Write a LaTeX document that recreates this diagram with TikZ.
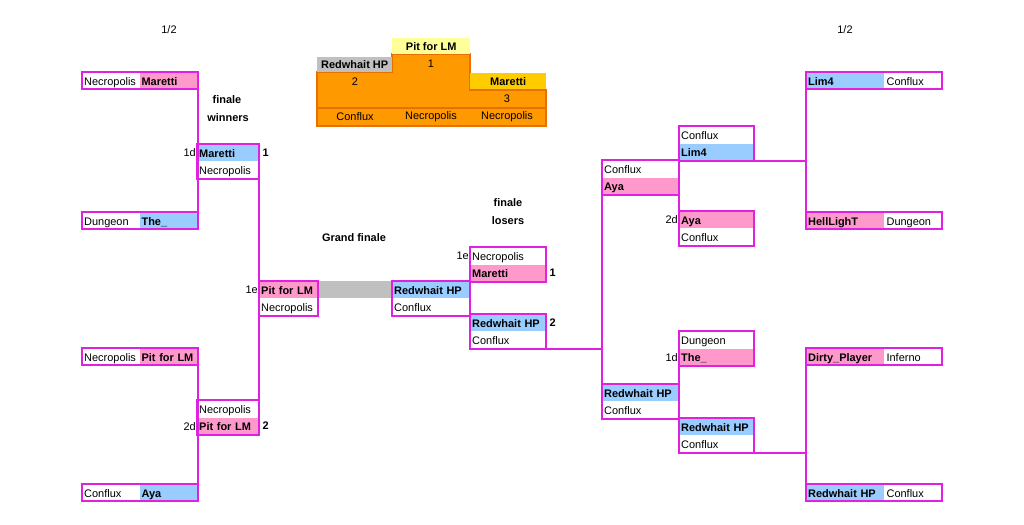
\documentclass[tikz,border=0pt]{standalone}
\usepackage{fontspec}
\setmainfont{Liberation Sans}
\usetikzlibrary{calc}

\definecolor{rimc}{RGB}{224,34,224}
\definecolor{pkc}{RGB}{255,153,204}
\definecolor{blc}{RGB}{153,204,255}
\definecolor{grc}{RGB}{192,192,192}
\definecolor{orc}{RGB}{255,153,0}
\definecolor{ordk}{RGB}{232,112,0}
\definecolor{ylc}{RGB}{255,255,153}
\definecolor{gdc}{RGB}{255,204,0}

\begin{document}
\begin{tikzpicture}
	[x=1bp,y=-1bp,
	cell/.style={anchor=north west,inner xsep=2bp,inner ysep=0pt,minimum height=17bp,text height=10.3pt,text depth=0.5pt,align=left,font=\fontsize{11}{13}\selectfont},
	wt/.style={},
	pk/.style={fill=pkc,font=\fontsize{11}{13}\selectfont\bfseries},
	bl/.style={fill=blc,font=\fontsize{11}{13}\selectfont\bfseries},
	rim/.style={draw=rimc,line width=2bp},
	ttl/.style={font=\fontsize{11}{13}\selectfont\bfseries,inner sep=1pt},
	plain/.style={font=\fontsize{11}{13}\selectfont,inner sep=1pt},
	seed/.style={plain,anchor=east},
	res/.style={ttl,anchor=west,xshift=2pt},
	pod/.style={anchor=north west,inner sep=0pt,font=\fontsize{11}{13}\selectfont\bfseries}]
	\useasboundingbox (0,0) rectangle (1024,525);
	%PODIUM
	\filldraw[fill=orc,draw=ordk,line width=1.5bp] (317,72) -- (392,72) -- (392,54) -- (470,54) -- (470,90) -- (546,90) -- (546,126) -- (317,126) -- cycle;
	\draw[draw=ordk,line width=1.5bp] (317,108) -- (546,108);
	\node[pod,fill=ylc,minimum width=78bp,minimum height=16bp] (p1) at (392,38) {Pit for LM};
	\node[pod,fill=grc,minimum width=75bp,minimum height=15bp] (p2) at (317,57) {Redwhait HP};
	\node[pod,fill=gdc,minimum width=76bp,minimum height=16bp] (p3) at (470,73) {Maretti};
	\node[plain] (n1) at (431,64) {1};
	\node[plain] (n2) at (355,82) {2};
	\node[plain] (n3) at (507,99) {3};
	\node[plain] (m2) at (355,117) {Conflux};
	\node[plain] (m1) at (431,117) {Necropolis};
	\node[plain] (m3) at (507,117) {Necropolis};
	%TITLES
	\node[plain] (half1) at (169,30) {1/2};
	\node[plain] (half2) at (845,30) {1/2};
	\node[ttl] (fw1) at (227,100) {finale};
	\node[ttl] (fw2) at (228,118) {winners};
	\node[ttl] (gf) at (354,238) {Grand finale};
	\node[ttl] (fl1) at (508,203) {finale};
	\node[ttl] (fl2) at (508,221) {losers};
	%FIRST ROUND LEFT
	\foreach \nm/\py/\mp/\pl/\st in {l1/72/Necropolis/Maretti/pk,l2/212/Dungeon/The\_/bl,l3/348/Necropolis/Pit for LM/pk,l4/484/Conflux/Aya/bl}
	{
		\node[cell,text width=53bp] (\nm a) at (82,\py) {\mp};
		\node[cell,\st,text width=54bp] (\nm b) at (\nm a.north east) {\pl};
		\draw[rim] (\nm a.north west) rectangle (\nm b.south east);
	};
	%FIRST ROUND RIGHT
	\foreach \nm/\py/\pl/\st/\mp in {r1/72/Lim4/bl/Conflux,r2/212/HellLighT/pk/Dungeon,r3/348/Dirty\_Player/pk/Inferno,r4/484/Redwhait HP/bl/Conflux}
	{
		\node[cell,\st,text width=74bp] (\nm a) at (806,\py) {\pl};
		\node[cell,text width=53bp] (\nm b) at (\nm a.north east) {\mp};
		\draw[rim] (\nm a.north west) rectangle (\nm b.south east);
	};
	%MATCHES
	\foreach \nm/\px/\py/\tw/\ta/\sa/\tb/\sb in {%
		w1/197/144/58/Maretti/bl/Necropolis/wt,%
		w2/197/400/58/Necropolis/wt/Pit for LM/pk,%
		g1/259/281/55/Pit for LM/pk/Necropolis/wt,%
		g2/392/281/74/Redwhait HP/bl/Conflux/wt,%
		f1/470/247/72/Necropolis/wt/Maretti/pk,%
		f2/470/314/72/Redwhait HP/bl/Conflux/wt,%
		s1/602/160/73/Conflux/wt/Aya/pk,%
		s2/602/384/73/Redwhait HP/bl/Conflux/wt,%
		ra/679/126/71/Conflux/wt/Lim4/bl,%
		rb/679/211/71/Aya/pk/Conflux/wt,%
		rc/679/331/71/Dungeon/wt/The\_/pk,%
		rd/679/418/71/Redwhait HP/bl/Conflux/wt}
	{
		\node[cell,\sa,text width=\tw bp] (\nm t) at (\px,\py) {\ta};
		\node[cell,\sb,text width=\tw bp] (\nm b) at (\nm t.south west) {\tb};
		\draw[rim] (\nm t.north west) rectangle (\nm b.south east);
	};
	\fill[grc] ($(g1t.north east)+(1,0)$) rectangle ($(g2t.south west)+(-1,0)$);
	%SEEDS AND RESULTS
	\node[seed] (sd1) at (w1t.west) {1d};
	\node[seed] (sd2) at (w2b.west) {2d};
	\node[seed] (sd3) at (g1t.west) {1e};
	\node[seed] (sd4) at (f1t.west) {1e};
	\node[seed] (sd5) at (rbt.west) {2d};
	\node[seed] (sd6) at (rcb.west) {1d};
	\node[res] (rs1) at (w1t.east) {1};
	\node[res] (rs2) at (w2b.east) {2};
	\node[res] (rs3) at (f1b.east) {1};
	\node[res] (rs4) at (f2t.east) {2};
	%LINKS
	\draw[rim] (l1b.south east) -- (l2b.north east);
	\draw[rim] (l3b.south east) -- (l4b.north east);
	\draw[rim] (w1b.south east) -- (w2t.north east);
	\draw[rim] (f1b.south west) -- (f2t.north west);
	\draw[rim] (f2b.south east) -- (f2b.south east -| s1b.south west);
	\draw[rim] (s1b.south west) -- (s2t.north west);
	\draw[rim] (rab.south west) -- (rbt.north west);
	\draw[rim] (rcb.south west) -- (rdt.north west);
	\draw[rim] (rab.south east) -- (rab.south east -| r1a.south west);
	\draw[rim] (r1a.south west) -- (r2a.north west);
	\draw[rim] (rdb.south east) -- (rdb.south east -| r3a.south west);
	\draw[rim] (r3a.south west) -- (r4a.north west);
\end{tikzpicture}
\end{document}
